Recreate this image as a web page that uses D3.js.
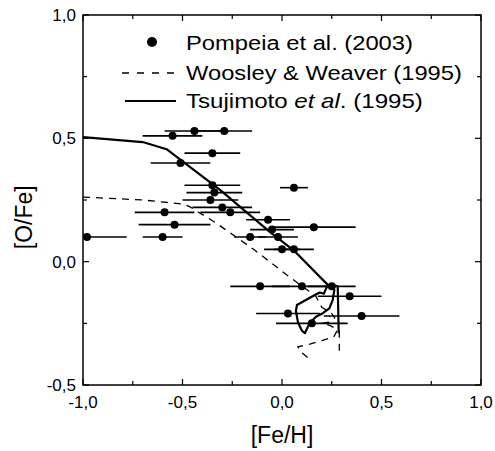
<!DOCTYPE html>
<html><head><meta charset="utf-8">
<script src="https://cdn.jsdelivr.net/npm/d3@7"></script>
<style>body{margin:0;background:#fff}svg{display:block}text{font-family:"Liberation Sans",Arial,sans-serif;fill:#000}</style>
</head><body><svg id="c" width="495" height="451"></svg>
<script>
// Pompeia et al. (2003) observations
const obsFeH  = [-0.98,-0.55,-0.44,-0.29,-0.35,-0.51,-0.35,-0.34,-0.36,-0.30,-0.26,-0.59,-0.54,-0.60,-0.16,-0.07,0.06,-0.05,0.16,-0.02,0.00,0.06,-0.11,0.10,0.25,0.34,0.03,0.40,0.15];
const obsOFe  = [0.10,0.51,0.53,0.53,0.44,0.40,0.31,0.28,0.25,0.22,0.20,0.20,0.15,0.10,0.10,0.17,0.30,0.13,0.14,0.10,0.05,0.05,-0.10,-0.10,-0.10,-0.14,-0.21,-0.22,-0.25];
const obsErr  = [0.20,0.15,0.15,0.14,0.14,0.15,0.14,0.14,0.14,0.15,0.15,0.15,0.18,0.10,0.08,0.11,0.07,0.11,0.21,0.10,0.09,0.10,0.15,0.15,0.12,0.16,0.16,0.19,0.18];
// Woosley & Weaver (1995) model (null = gap)
const wwFeH = [-1.0,-0.70,-0.50,-0.464,-0.33,-0.138,0.046,0.17,0.20,0.25,0.265,0.24,0.20,0.24,0.28,0.26,0.20,0.14,0.08,0.09,0.13,null,0.288,0.288];
const wwOFe = [0.262,0.25,0.234,0.223,0.156,0.047,-0.067,-0.14,-0.185,-0.21,-0.228,-0.245,-0.25,-0.258,-0.275,-0.305,-0.32,-0.334,-0.345,-0.362,-0.39,null,-0.28,-0.385];
// Tsujimoto et al. (1995) model
const tsFeH = [-1.0,-0.70,-0.58,-0.31,-0.063,0.06,0.23,0.21,0.19,0.165,0.075,0.07,0.08,0.10,0.115,0.138,0.171,0.205,0.238,0.255,0.263,0.255,0.28,0.285];
const tsOFe = [0.505,0.485,0.456,0.29,0.122,0.045,-0.094,-0.13,-0.125,-0.135,-0.176,-0.20,-0.245,-0.28,-0.29,-0.25,-0.223,-0.209,-0.189,-0.155,-0.115,-0.095,-0.10,-0.29];
const xTicks = [-1.0,-0.5,0.0,0.5,1.0];
const yTicks = [-0.5,0.0,0.5,1.0];
const legendLabels = ["Pompeia et al. (2003)","Woosley & Weaver (1995)","Tsujimoto "];

const svg = d3.select("#c");
const L=83,R=481,T=15,B=385;
const x = d3.scaleLinear().domain([-1,1]).range([L,R]);
const y = d3.scaleLinear().domain([-0.5,1]).range([B,T]);
const fmt = d => d3.format(".1f")(d).replace(".",",").replace("−","-");

// ticks (inward, all four sides)
const majX = xTicks, minX = d3.range(-0.75,1,0.5);
const majY = yTicks, minY = d3.range(-0.25,1,0.5);
const g = svg.append("g").attr("stroke","#000").attr("stroke-width",1.2);
majX.forEach(v=>{g.append("line").attr("x1",x(v)).attr("x2",x(v)).attr("y1",B).attr("y2",B-6);
  g.append("line").attr("x1",x(v)).attr("x2",x(v)).attr("y1",T).attr("y2",T+6);});
minX.forEach(v=>{g.append("line").attr("x1",x(v)).attr("x2",x(v)).attr("y1",B).attr("y2",B-4);
  g.append("line").attr("x1",x(v)).attr("x2",x(v)).attr("y1",T).attr("y2",T+4);});
majY.forEach(v=>{g.append("line").attr("y1",y(v)).attr("y2",y(v)).attr("x1",L).attr("x2",L+6);
  g.append("line").attr("y1",y(v)).attr("y2",y(v)).attr("x1",R).attr("x2",R-6);});
minY.forEach(v=>{g.append("line").attr("y1",y(v)).attr("y2",y(v)).attr("x1",L).attr("x2",L+4);
  g.append("line").attr("y1",y(v)).attr("y2",y(v)).attr("x1",R).attr("x2",R-4);});

// frame
svg.append("rect").attr("x",L).attr("y",T).attr("width",R-L).attr("height",B-T)
  .attr("fill","none").attr("stroke","#000").attr("stroke-width",1.5);

// tick labels
svg.selectAll(".xl").data(xTicks).enter().append("text").attr("x",d=>x(d)).attr("y",408)
  .attr("text-anchor","middle").attr("font-size",17).text(fmt);
svg.selectAll(".yl").data(yTicks).enter().append("text").attr("x",76).attr("y",d=>y(d)+6)
  .attr("text-anchor","end").attr("font-size",17).text(fmt);

// axis titles
svg.append("text").attr("x",x(0)).attr("y",443).attr("text-anchor","middle").attr("font-size",23).text("[Fe/H]");
svg.append("text").attr("transform",`translate(32,${y(0.18)}) rotate(-90)`).attr("text-anchor","middle").attr("font-size",23).text("[O/Fe]");

svg.append("clipPath").attr("id","pc").append("rect").attr("x",L).attr("y",T).attr("width",R-L).attr("height",B-T);
const plot = svg.append("g").attr("clip-path","url(#pc)");

// models
const ww = wwFeH.map((v,i)=>[v,wwOFe[i]]);
const ts = tsFeH.map((v,i)=>[v,tsOFe[i]]);
const line = d3.line().defined(d=>d[0]!==null).x(d=>x(d[0])).y(d=>y(d[1]));
plot.append("path").attr("d",line(ww)).attr("fill","none").attr("stroke","#000").attr("stroke-width",1.3).attr("stroke-dasharray","7,6");
plot.append("path").attr("d",line(ts)).attr("fill","none").attr("stroke","#000").attr("stroke-width",2.2).attr("stroke-linejoin","round");

// error bars + points
obsFeH.forEach((v,i)=>{
  plot.append("line").attr("x1",x(v-obsErr[i])).attr("x2",x(v+obsErr[i])).attr("y1",y(obsOFe[i])).attr("y2",y(obsOFe[i]))
    .attr("stroke","#000").attr("stroke-width",1.6);
});
plot.selectAll("circle").data(obsFeH).enter().append("circle").attr("cx",d=>x(d)).attr("cy",(d,i)=>y(obsOFe[i])).attr("r",4).attr("fill","#000");

// legend (text slightly widened to match reference)
function legText(yb, targetW){
  const t = svg.append("text").attr("font-size",21).attr("transform",`translate(186,${yb})`);
  return {t, fit(){ const w=t.node().getComputedTextLength(); t.attr("transform",`translate(186,${yb}) scale(${targetW/w},1)`); }};
}
svg.append("circle").attr("cx",152).attr("cy",42).attr("r",5).attr("fill","#000");
const a = legText(49.5,227); a.t.text(legendLabels[0]); a.fit();
svg.append("line").attr("x1",122).attr("x2",176).attr("y1",73).attr("y2",73).attr("stroke","#000").attr("stroke-width",1.3).attr("stroke-dasharray","7,8");
const b = legText(79.5,276); b.t.text(legendLabels[1]); b.fit();
svg.append("line").attr("x1",125).attr("x2",176).attr("y1",101).attr("y2",101).attr("stroke","#000").attr("stroke-width",2.2);
const c = legText(107.5,237);
c.t.append("tspan").text(legendLabels[2]);
c.t.append("tspan").attr("font-style","italic").text("et al");
c.t.append("tspan").text(". (1995)");
c.fit();
</script></body></html>
